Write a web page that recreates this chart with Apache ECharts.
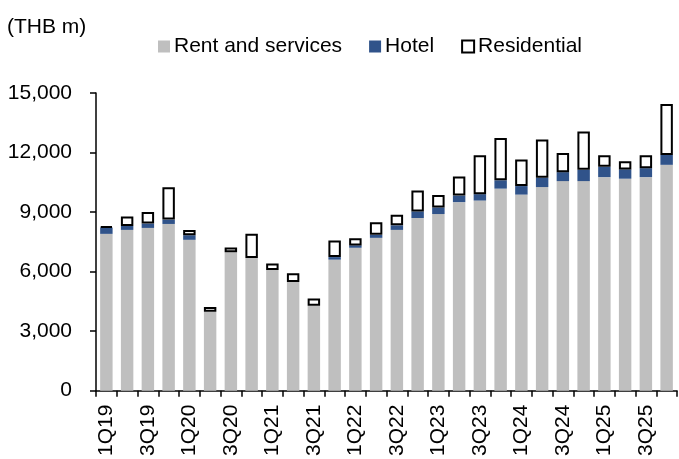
<!DOCTYPE html>
<html>
<head>
<meta charset="utf-8">
<script src="https://cdn.jsdelivr.net/npm/echarts@6/dist/echarts.min.js"></script>
<style>
html,body{margin:0;padding:0;background:#fff;}
#c{width:679px;height:459px;}
</style>
</head>
<body>
<div id="c"></div>
<script>
var categories = ['1Q19','2Q19','3Q19','4Q19','1Q20','2Q20','3Q20','4Q20','1Q21','2Q21','3Q21','4Q21','1Q22','2Q22','3Q22','4Q22','1Q23','2Q23','3Q23','4Q23','1Q24','2Q24','3Q24','4Q24','1Q25','2Q25','3Q25','4Q25'];
var rentAndServices = [7900, 8100, 8200, 8400, 7600, 3980, 6980, 6680, 6080, 5480, 4280, 6600, 7200, 7700, 8100, 8700, 8900, 9500, 9580, 10180, 9880, 10260, 10560, 10560, 10760, 10680, 10760, 11380];
var hotel = [320, 200, 220, 220, 230, 0, 0, 0, 0, 0, 0, 130, 120, 150, 230, 330, 330, 330, 320, 420, 430, 470, 450, 570, 520, 470, 450, 500];
var residential = [60, 480, 580, 1630, 260, 230, 230, 1230, 330, 430, 360, 830, 360, 630, 530, 1060, 630, 960, 1960, 2130, 1340, 1930, 960, 1930, 580, 410, 650, 2560];
var yTicks = [0, 3000, 6000, 9000, 12000, 15000];

var FONT = 'Liberation Sans, Arial, sans-serif';
var chart = echarts.init(document.getElementById('c'), null, {renderer: 'canvas'});
chart.setOption({
  animation: false,
  backgroundColor: '#ffffff',
  textStyle: {fontFamily: FONT},
  graphic: [{
    type: 'text', left: 7, top: 17,
    style: {text: '(THB m)', font: '21px ' + FONT, fill: '#000'}
  }],
  legend: {
    left: 153, top: 31,
    itemWidth: 12, itemHeight: 12, itemGap: 27,
    icon: 'rect',
    textStyle: {fontSize: 21, color: '#000', fontFamily: FONT, padding: [0, 0, 0, -1]},
    data: ['Rent and services', 'Hotel', 'Residential']
  },
  grid: {left: 96, right: 2, top: 93, bottom: 64, containLabel: false},
  xAxis: {
    type: 'category',
    data: categories,
    axisLine: {lineStyle: {color: '#000', width: 1.5}},
    axisTick: {show: true, alignWithLabel: false, interval: 0, length: 6, lineStyle: {color: '#000', width: 1.5}},
    axisLabel: {interval: 1, rotate: 90, fontSize: 21, color: '#000', margin: 14, fontFamily: FONT}
  },
  yAxis: {
    type: 'value',
    min: yTicks[0], max: yTicks[yTicks.length - 1], interval: 3000,
    axisLine: {show: true, lineStyle: {color: '#000', width: 1.5}},
    axisTick: {show: true, length: 6, lineStyle: {color: '#000', width: 1.5}},
    splitLine: {show: false},
    axisLabel: {
      fontSize: 21, color: '#000', margin: 24, fontFamily: FONT,
      formatter: function (v) { return v.toLocaleString('en-US'); }
    }
  },
  series: [
    {name: 'Rent and services', type: 'bar', stack: 'a', barWidth: '60%', data: rentAndServices,
     itemStyle: {color: '#BFBFBF'}},
    {name: 'Hotel', type: 'bar', stack: 'a', data: hotel,
     itemStyle: {color: '#30538A'}},
    {name: 'Residential', type: 'bar', stack: 'a', data: residential,
     itemStyle: {color: '#ffffff', borderColor: '#000', borderWidth: 2}}
  ]
});
</script>
</body>
</html>
